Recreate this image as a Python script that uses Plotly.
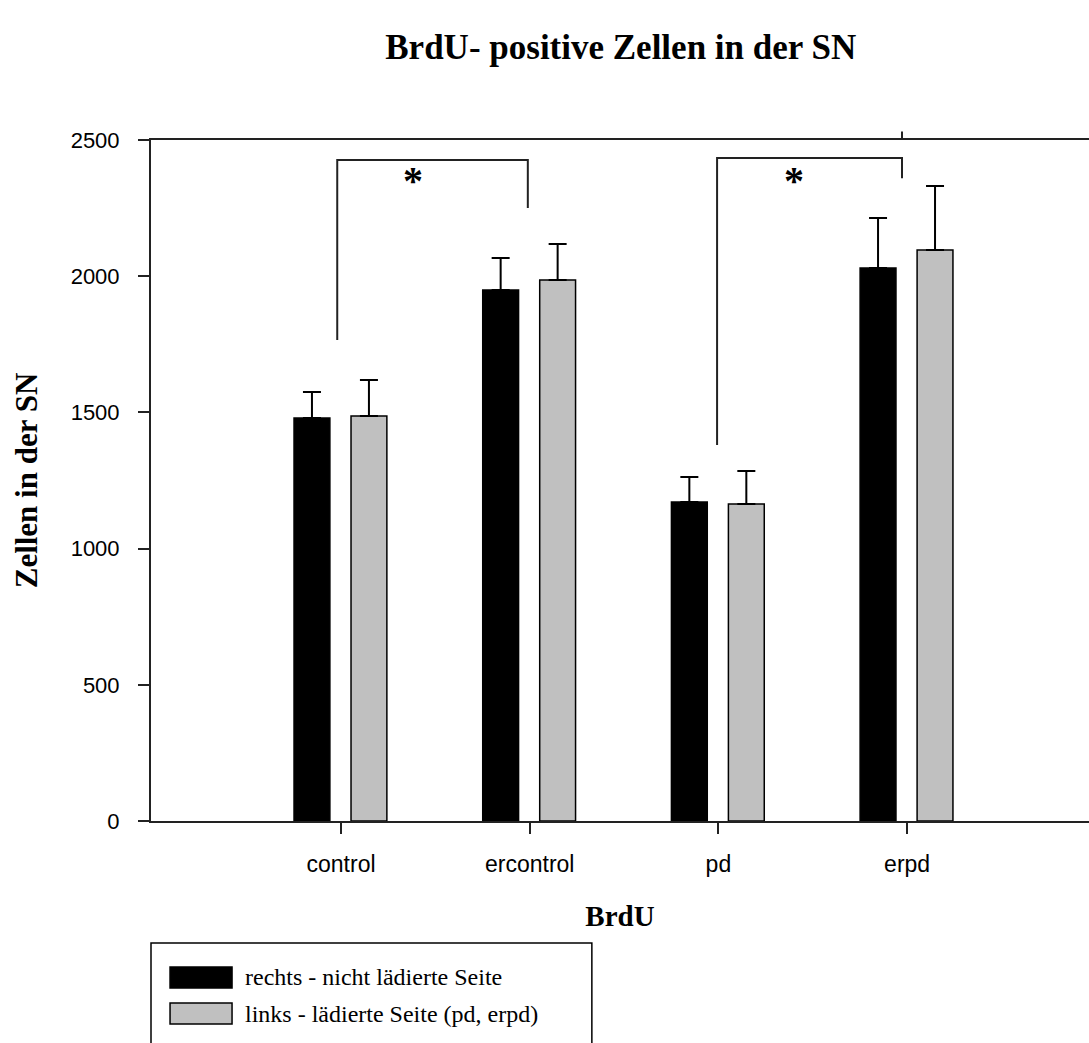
import plotly.graph_objects as go

categories = ["control", "ercontrol", "pd", "erpd"]
series_names = ["rechts - nicht lädierte Seite", "links - lädierte Seite (pd, erpd)"]
rechts_values = [1479, 1949, 1171, 2030]
rechts_errors = [96, 118, 92, 184]
links_values = [1487, 1986, 1164, 2096]
links_errors = [132, 132, 121, 235]
y_ticks = [0, 500, 1000, 1500, 2000, 2500]

# significance brackets: (x_left, x_right, y_top, y_left_end, y_right_end)
brackets = [(-0.02, 0.99, 2427, 1766, 2250), (1.993, 2.973, 2434, 1380, 2360)]
stars = [(0.38, 2352), (2.40, 2350)]

xpos = list(range(len(categories)))
serif = "Liberation Serif, Times New Roman, serif"
sans = "Liberation Sans Narrow, Arial Narrow, Liberation Sans, Arial, sans-serif"

fig = go.Figure()
fig.add_trace(go.Bar(
    x=xpos, y=rechts_values, name=series_names[0],
    width=0.19, offset=-0.249,
    marker=dict(color="black", line=dict(color="black", width=1.5)),
    error_y=dict(type="data", array=rechts_errors, arrayminus=[0] * 4, symmetric=False,
                 color="black", thickness=2, width=9),
    showlegend=False,
))
fig.add_trace(go.Bar(
    x=xpos, y=links_values, name=series_names[1],
    width=0.19, offset=0.053,
    marker=dict(color="#c0c0c0", line=dict(color="black", width=1.5)),
    error_y=dict(type="data", array=links_errors, arrayminus=[0] * 4, symmetric=False,
                 color="black", thickness=2, width=9),
    showlegend=False,
))

shapes = []
for (xl, xr, yt, yl, yr) in brackets:
    shapes.append(dict(type="path", xref="x", yref="y",
                       path=f"M {xl},{yl} L {xl},{yt} L {xr},{yt} L {xr},{yr}",
                       line=dict(color="#222", width=2)))
# small tick above the top frame
shapes.append(dict(type="line", xref="x", yref="paper", x0=2.973, x1=2.973, y0=1.0, y1=1.0125,
                   line=dict(color="#222", width=2)))

annotations = []
for (sx, sy) in stars:
    annotations.append(dict(x=sx, y=sy, xref="x", yref="y", text="<b>*</b>", showarrow=False,
                            font=dict(family=serif, size=40, color="black"), yanchor="middle"))

# custom legend box
shapes.append(dict(type="rect", xref="paper", yref="paper", x0=0, x1=0.470, y0=-0.179, y1=-0.36,
                   line=dict(color="black", width=1.5), fillcolor="white"))
sw_colors = ["black", "#c0c0c0"]
sw_y = [(-0.2144, -0.2452), (-0.2673, -0.2981)]
for i, name in enumerate(series_names):
    shapes.append(dict(type="rect", xref="paper", yref="paper", x0=0.0203, x1=0.0864,
                       y0=sw_y[i][0], y1=sw_y[i][1], fillcolor=sw_colors[i],
                       line=dict(color="black", width=1.5)))
    annotations.append(dict(x=0.0981, y=(sw_y[i][0] + sw_y[i][1]) / 2, xref="paper", yref="paper",
                            text=name, showarrow=False, xanchor="left", yanchor="middle",
                            font=dict(family=serif, size=24, color="black")))

fig.update_layout(
    width=1089, height=1043,
    margin=dict(l=151, r=0, t=140, b=222),
    paper_bgcolor="white", plot_bgcolor="white",
    barmode="overlay",
    title=dict(text="<b>BrdU- positive Zellen in der SN</b>", x=0.57, xanchor="center",
               y=1 - 47 / 1043, yref="container", yanchor="middle",
               font=dict(family=serif, size=35, color="black")),
    xaxis=dict(range=[-1.007, 3.964], tickvals=xpos, ticktext=categories,
               ticks="outside", ticklen=11, tickwidth=2, tickcolor="#222",
               showline=True, linecolor="#222", linewidth=2, mirror=True,
               showgrid=False, zeroline=False, ticklabelstandoff=10,
               tickfont=dict(family=sans, size=23, color="black"),
               title=dict(text="<b>BrdU</b>", standoff=30,
                          font=dict(family=serif, size=29, color="black"))),
    yaxis=dict(range=[0, 2500], tickvals=y_ticks,
               ticks="outside", ticklen=11, tickwidth=2, tickcolor="#222",
               showline=True, linecolor="#222", linewidth=2,
               showgrid=False, zeroline=False, ticklabelstandoff=14,
               tickfont=dict(family=sans, size=22, color="black"),
               title=dict(text="<b>Zellen in der SN</b>", standoff=24,
                          font=dict(family=serif, size=31, color="black"))),
    shapes=shapes,
    annotations=annotations,
)

fig.write_html("out.html")
